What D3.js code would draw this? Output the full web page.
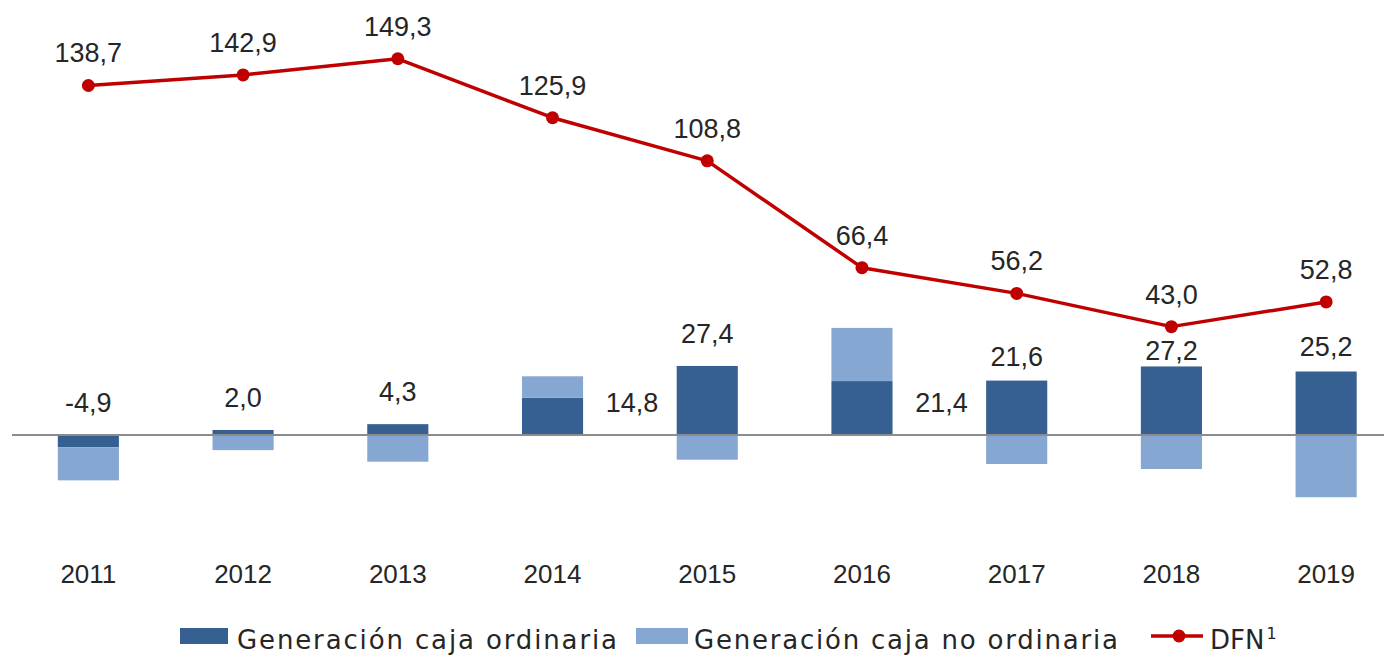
<!DOCTYPE html>
<html>
<head>
<meta charset="utf-8">
<script src="https://cdn.jsdelivr.net/npm/d3@7"></script>
<style>
  body { margin: 0; background: #fff; }
  svg text { font-family: "Liberation Sans", Arial, sans-serif; fill: #262626; }
</style>
</head>
<body>
<div id="view"></div>
<script>
var width = 1384, height = 657;

// datos
var years = ["2011", "2012", "2013", "2014", "2015", "2016", "2017", "2018", "2019"];
var cajaOrdinaria = [-4.9, 2.0, 4.3, 14.8, 27.4, 21.4, 21.6, 27.2, 25.2];
var cajaNoOrdinaria = [-13.1, -6.0, -10.6, 8.5, -9.8, 21.1, -11.5, -13.5, -24.7];
var dfn = [138.7, 142.9, 149.3, 125.9, 108.8, 66.4, 56.2, 43.0, 52.8];

// ajustes manuales de etiquetas (px hacia abajo)
var labelNudge = { "2017": 8, "2018": 17, "2019": 8 };

var colDark = "#366092", colLight = "#87a7d3", colLine = "#c00000";
var fmt = function(v) { return v.toFixed(1).replace(".", ","); };

var svg = d3.select("#view").append("svg")
  .attr("width", width)
  .attr("height", height);

var x = d3.scaleBand()
  .domain(years)
  .range([11, 1403.5])
  .paddingInner(0.605)
  .paddingOuter(0.3025);

var y = d3.scaleLinear()
  .domain([-30, 160])
  .range([435 + 30 * 2.52, 435 - 160 * 2.52]);

var rows = years.map(function(yr, i) {
  return { year: yr, ord: cajaOrdinaria[i], noord: cajaNoOrdinaria[i], dfn: dfn[i] };
});

var stack = d3.stack()
  .keys(["ord", "noord"])
  .offset(d3.stackOffsetDiverging)(rows);

var colors = { ord: colDark, noord: colLight };

// barras
svg.append("g").selectAll("g")
  .data(stack).enter()
  .append("g")
  .attr("fill", function(s) { return colors[s.key]; })
  .selectAll("rect")
  .data(function(s) { return s; }).enter()
  .append("rect")
  .attr("x", function(d) { return x(d.data.year); })
  .attr("width", x.bandwidth())
  .attr("y", function(d) { return y(Math.max(d[0], d[1])); })
  .attr("height", function(d) { return Math.abs(y(d[0]) - y(d[1])); });

// línea del cero
svg.append("line")
  .attr("x1", 12).attr("x2", width)
  .attr("y1", y(0)).attr("y2", y(0))
  .attr("stroke", "#8c8c8c")
  .attr("stroke-width", 2);

// etiquetas de caja ordinaria
svg.append("g").selectAll("text")
  .data(rows).enter()
  .append("text")
  .attr("font-size", 27)
  .attr("text-anchor", "middle")
  .attr("x", function(d) {
    var cx = x(d.year) + x.bandwidth() / 2;
    return d.noord > 0 ? x(d.year) + x.bandwidth() + 49 : cx;
  })
  .attr("y", function(d) {
    if (d.noord > 0) return y(0) - 23;
    return y(Math.max(0, d.ord)) - 23 + (labelNudge[d.year] || 0);
  })
  .text(function(d) { return fmt(d.ord); });

// línea DFN
var line = d3.line()
  .x(function(d) { return x(d.year) + x.bandwidth() / 2; })
  .y(function(d) { return y(d.dfn); });

svg.append("path")
  .datum(rows)
  .attr("d", line)
  .attr("fill", "none")
  .attr("stroke", colLine)
  .attr("stroke-width", 3.5)
  .attr("stroke-linejoin", "round");

svg.append("g").selectAll("circle")
  .data(rows).enter()
  .append("circle")
  .attr("cx", function(d) { return x(d.year) + x.bandwidth() / 2; })
  .attr("cy", function(d) { return y(d.dfn); })
  .attr("r", 6.5)
  .attr("fill", colLine);

svg.append("g").selectAll("text")
  .data(rows).enter()
  .append("text")
  .attr("font-size", 27)
  .attr("text-anchor", "middle")
  .attr("x", function(d) { return x(d.year) + x.bandwidth() / 2; })
  .attr("y", function(d) { return y(d.dfn) - 23; })
  .text(function(d) { return fmt(d.dfn); });

// eje de años
svg.append("g").selectAll("text")
  .data(years).enter()
  .append("text")
  .attr("font-size", 26)
  .attr("text-anchor", "middle")
  .attr("x", function(d) { return x(d) + x.bandwidth() / 2; })
  .attr("y", 583)
  .text(function(d) { return d; });

// leyenda
var lg = svg.append("g").attr("font-size", 26).style("font-family", "'DejaVu Sans', sans-serif");
lg.append("rect").attr("x", 180).attr("y", 628).attr("width", 48).attr("height", 16).attr("fill", colDark);
lg.append("text").attr("x", 237).attr("y", 649)
  .style("font-family", "'DejaVu Sans', sans-serif")
  .attr("textLength", 380).attr("lengthAdjust", "spacing")
  .text("Generación caja ordinaria");
lg.append("rect").attr("x", 636).attr("y", 628).attr("width", 52).attr("height", 16).attr("fill", colLight);
lg.append("text").attr("x", 694).attr("y", 649)
  .style("font-family", "'DejaVu Sans', sans-serif")
  .attr("textLength", 424).attr("lengthAdjust", "spacing")
  .text("Generación caja no ordinaria");
lg.append("line").attr("x1", 1151).attr("x2", 1203).attr("y1", 636).attr("y2", 636)
  .attr("stroke", colLine).attr("stroke-width", 3.5);
lg.append("circle").attr("cx", 1179).attr("cy", 636).attr("r", 6.5).attr("fill", colLine);
var dfnText = lg.append("text").attr("x", 1210).attr("y", 649)
  .style("font-family", "'DejaVu Sans', sans-serif");
dfnText.append("tspan").text("DFN");
dfnText.append("tspan").attr("font-size", 16).attr("dy", -10).attr("dx", 2).text("1");
</script>
</body>
</html>
